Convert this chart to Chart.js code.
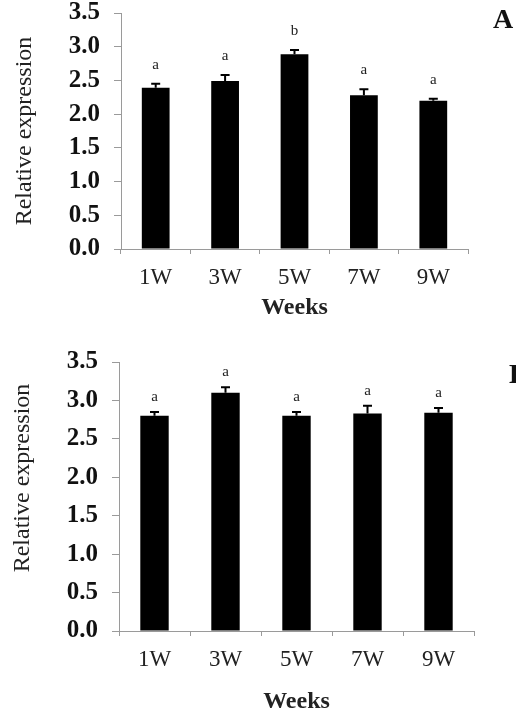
<!DOCTYPE html>
<html>
<head>
<meta charset="utf-8">
<script src="https://cdn.jsdelivr.net/npm/chart.js@4.4.1/dist/chart.umd.min.js"></script>
<style>
  body { margin: 0; background: #fff; width: 516px; height: 717px; overflow: hidden; position: relative; }
  canvas { position: absolute; left: 0; }
  #chartA { top: 0; }
  #chartB { top: 345px; }
</style>
</head>
<body>
<canvas id="chartA" width="516" height="335"></canvas>
<canvas id="chartB" width="516" height="372"></canvas>
<script>
// data
const weeks = ["1W", "3W", "5W", "7W", "9W"];

const expressionA = [2.39, 2.49, 2.89, 2.28, 2.20];
const errorA = [0.06, 0.09, 0.06, 0.09, 0.03];
const lettersA = ["a", "a", "b", "a", "a"];

const expressionB = [2.80, 3.10, 2.80, 2.83, 2.84];
const errorB = [0.05, 0.07, 0.05, 0.10, 0.06];
const lettersB = ["a", "a", "a", "a", "a"];

const yMin = 0;
const yMax = 3.5;
const yStep = 0.5;

const serif = "'Liberation Serif', 'Times New Roman', serif";
const axisGray = "#9a9a9a";

// error bars + significance letters on top of each bar
const errorBars = {
  id: "errorBars",
  afterDatasetsDraw(chart, args, opts) {
    const ctx = chart.ctx;
    const y = chart.scales.y;
    const meta = chart.getDatasetMeta(0);
    ctx.save();
    meta.data.forEach((bar, i) => {
      const val = chart.data.datasets[0].data[i];
      const top = y.getPixelForValue(val + opts.errors[i]);
      ctx.strokeStyle = "#000";
      ctx.lineWidth = 2;
      ctx.beginPath();
      ctx.moveTo(bar.x, bar.y);
      ctx.lineTo(bar.x, top);
      ctx.moveTo(bar.x - 4.5, top);
      ctx.lineTo(bar.x + 4.5, top);
      ctx.stroke();

      ctx.fillStyle = "#222";
      ctx.font = "15px " + serif;
      ctx.textAlign = "center";
      ctx.textBaseline = "middle";
      ctx.fillText(opts.letters[i], bar.x, top - opts.gap);
    });
    ctx.restore();
  }
};

// y axis title and panel letter
const panelText = {
  id: "panelText",
  afterDraw(chart, args, opts) {
    const ctx = chart.ctx;
    ctx.save();
    ctx.fillStyle = "#222";
    ctx.font = "24px " + serif;
    ctx.textAlign = "center";
    ctx.textBaseline = "middle";
    ctx.translate(opts.titleX, opts.titleY);
    ctx.rotate(-Math.PI / 2);
    ctx.fillText("Relative expression", 0, 0);
    ctx.restore();

    ctx.save();
    ctx.fillStyle = "#111";
    ctx.font = "bold 28px " + serif;
    ctx.textAlign = "left";
    ctx.textBaseline = "middle";
    ctx.fillText(opts.panel, opts.panelX, opts.panelY);
    ctx.restore();
  }
};

function makeChart(id, values, errors, letters, cfg) {
  return new Chart(document.getElementById(id), {
    type: "bar",
    data: {
      labels: weeks,
      datasets: [{
        data: values,
        backgroundColor: "#000",
        borderWidth: 0,
        barPercentage: 0.4,
        categoryPercentage: 1.0
      }]
    },
    options: {
      responsive: false,
      animation: false,
      layout: {
        padding: { top: cfg.top, right: cfg.right, left: 0, bottom: 0 }
      },
      plugins: {
        legend: { display: false },
        tooltip: { enabled: false },
        errorBars: { errors: errors, letters: letters, gap: cfg.gap },
        panelText: cfg.text
      },
      scales: {
        x: {
          afterFit: s => { s.height = cfg.xHeight; s.paddingLeft = 0; s.paddingRight = 0; },
          grid: { offset: true, drawOnChartArea: false, tickLength: 5, color: axisGray },
          border: { color: axisGray, width: 1 },
          ticks: { color: "#222", padding: 10, font: { family: serif, size: 23 } },
          title: {
            display: true,
            text: "Weeks",
            color: "#222",
            font: { family: serif, size: 24, weight: "bold" },
            padding: { top: 0, bottom: cfg.weeksPad }
          }
        },
        y: {
          min: yMin,
          max: yMax,
          afterFit: s => { s.width = cfg.yWidth; s.paddingTop = 0; s.paddingBottom = 0; },
          grid: { drawOnChartArea: false, tickLength: 7, color: axisGray },
          border: { color: axisGray, width: 1 },
          ticks: {
            stepSize: yStep,
            padding: 14,
            color: "#111",
            font: { family: serif, size: 25, weight: "bold", lineHeight: 1 },
            callback: v => v.toFixed(1)
          }
        }
      }
    },
    plugins: [errorBars, panelText]
  });
}

makeChart("chartA", expressionA, errorA, lettersA, {
  top: 13, right: 48, yWidth: 121, xHeight: 86, weeksPad: 13, gap: 19,
  text: { titleX: 25, titleY: 131, panel: "A", panelX: 493, panelY: 21 }
});

makeChart("chartB", expressionB, errorB, lettersB, {
  top: 17, right: 42, yWidth: 119, xHeight: 86, weeksPad: 1, gap: 15,
  text: { titleX: 23, titleY: 133, panel: "B", panelX: 509, panelY: 31 }
});
</script>
</body>
</html>
